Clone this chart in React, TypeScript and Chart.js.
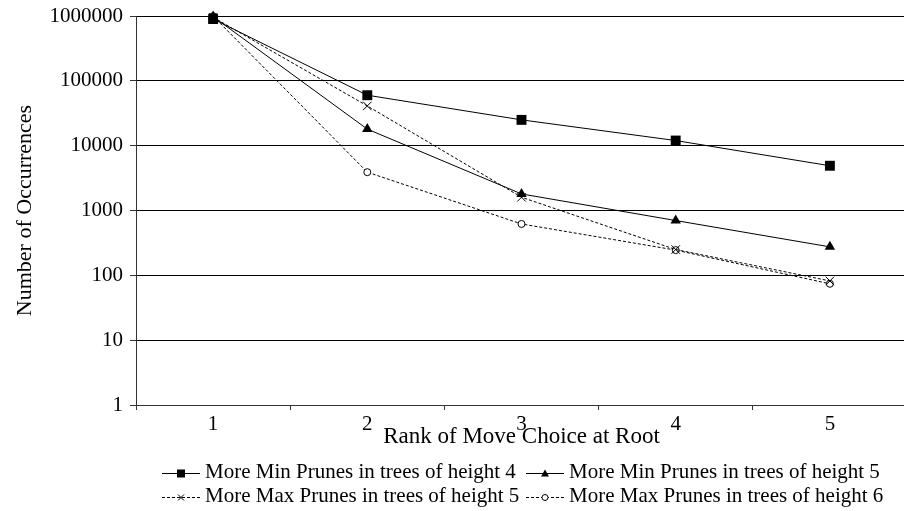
import React, { useEffect, useRef } from "react";
import { Chart, registerables } from "chart.js";

Chart.register(...registerables);

// ---- data ----
const categories = ["1", "2", "3", "4", "5"];
const minPrunesH4 = [898000, 60000, 25000, 12000, 4900];
const minPrunesH5 = [979000, 18000, 1800, 700, 275];
const maxPrunesH5 = [956000, 41000, 1600, 250, 82];
const maxPrunesH6 = [995000, 3900, 620, 245, 74];
const yTickValues = [1, 10, 100, 1000, 10000, 100000, 1000000];
const seriesLabels = [
  "More Min Prunes in trees of height 4",
  "More Min Prunes in trees of height 5",
  "More Max Prunes in trees of height 5",
  "More Max Prunes in trees of height 6",
];
const xTitle = "Rank of Move Choice at Root";
const yTitle = "Number of Occurrences";

// ---- styles ----
const FAMILY = "'Liberation Serif', 'Times New Roman', serif";
const FONT_SIZE = 21;
const AXIS_COLOR = "#333";

type Marker = "rect" | "triangle" | "crossRot" | "circle";
const legendMarkers: Marker[] = ["rect", "triangle", "crossRot", "circle"];

function drawLegendMarker(ctx: CanvasRenderingContext2D, m: Marker, x: number, y: number) {
  ctx.save();
  ctx.setLineDash([]);
  ctx.strokeStyle = "#000";
  ctx.fillStyle = "#000";
  ctx.lineWidth = 1;
  if (m === "rect") {
    ctx.fillRect(x - 4, y - 4, 8, 8);
  } else if (m === "triangle") {
    ctx.beginPath();
    ctx.moveTo(x, y - 4);
    ctx.lineTo(x + 4, y + 3);
    ctx.lineTo(x - 4, y + 3);
    ctx.closePath();
    ctx.fill();
  } else if (m === "crossRot") {
    ctx.beginPath();
    ctx.moveTo(x - 3, y - 3);
    ctx.lineTo(x + 3, y + 3);
    ctx.moveTo(x + 3, y - 3);
    ctx.lineTo(x - 3, y + 3);
    ctx.stroke();
  } else {
    ctx.beginPath();
    ctx.arc(x, y, 3, 0, Math.PI * 2);
    ctx.fillStyle = "#fff";
    ctx.fill();
    ctx.stroke();
  }
  ctx.restore();
}

const legendPlugin = {
  id: "bottomLegend",
  afterDraw(chart: any) {
    const ctx: CanvasRenderingContext2D = chart.ctx;
    const colX = [162, 526];
    const rowY = [473, 497];
    const sampleLen = 38;
    ctx.save();
    ctx.font = `${FONT_SIZE}px ${FAMILY}`;
    ctx.textBaseline = "alphabetic";
    ctx.textAlign = "left";
    chart.data.datasets.forEach((ds: any, i: number) => {
      const x = colX[i % 2];
      const y = rowY[Math.floor(i / 2)];
      ctx.beginPath();
      ctx.setLineDash(ds.borderDash || []);
      ctx.strokeStyle = "#000";
      ctx.lineWidth = 1;
      ctx.moveTo(x, y + 0.5);
      ctx.lineTo(x + sampleLen, y + 0.5);
      ctx.stroke();
      drawLegendMarker(ctx, legendMarkers[i], x + sampleLen / 2, y + 0.5);
      ctx.setLineDash([]);
      ctx.fillStyle = "#000";
      ctx.fillText(ds.label, x + sampleLen + 5, y + 5);
    });
    ctx.restore();
  },
};

export default function App() {
  const canvasRef = useRef<HTMLCanvasElement | null>(null);

  useEffect(() => {
    if (!canvasRef.current) return;
    const font = { family: FAMILY, size: FONT_SIZE };
    const chart = new Chart(canvasRef.current, {
      type: "line",
      data: {
        labels: categories,
        datasets: [
          {
            label: seriesLabels[0],
            data: minPrunesH4,
            borderColor: "#000",
            borderWidth: 1,
            pointStyle: "rect",
            pointRadius: 7,
            pointBackgroundColor: "#000",
            pointBorderColor: "#000",
            pointBorderWidth: 0,
            clip: false,
          },
          {
            label: seriesLabels[1],
            data: minPrunesH5,
            borderColor: "#000",
            borderWidth: 1,
            pointStyle: "triangle",
            pointRadius: 6,
            pointBackgroundColor: "#000",
            pointBorderColor: "#000",
            pointBorderWidth: 0,
            clip: false,
          },
          {
            label: seriesLabels[2],
            data: maxPrunesH5,
            borderColor: "#000",
            borderWidth: 1,
            borderDash: [3, 2],
            pointStyle: "crossRot",
            pointRadius: 6,
            pointBackgroundColor: "#000",
            pointBorderColor: "#000",
            pointBorderWidth: 1,
            clip: false,
          },
          {
            label: seriesLabels[3],
            data: maxPrunesH6,
            borderColor: "#000",
            borderWidth: 1,
            borderDash: [3, 2],
            pointStyle: "circle",
            pointRadius: 3.5,
            pointBackgroundColor: "#fff",
            pointBorderColor: "#000",
            pointBorderWidth: 1,
            clip: false,
          },
        ] as any,
      },
      options: {
        responsive: false,
        maintainAspectRatio: false,
        animation: false,
        devicePixelRatio: 1,
        layout: { padding: { top: 16, right: 0, bottom: 56, left: 0 } },
        elements: { line: { tension: 0 } },
        plugins: {
          legend: { display: false },
          tooltip: { enabled: false },
        },
        scales: {
          x: {
            type: "category",
            offset: true,
            grid: {
              display: true,
              drawOnChartArea: false,
              drawTicks: true,
              tickLength: 5,
              color: AXIS_COLOR,
              offset: true,
            },
            border: { color: AXIS_COLOR, width: 1 },
            ticks: { font, color: "#000", padding: 2, maxRotation: 0 },
            title: {
              display: true,
              text: xTitle,
              font: { family: FAMILY, size: 23 },
              color: "#000",
              padding: { top: 0, bottom: 4 },
            },
            afterFit: (s: any) => {
              s.height = 50;
              s.paddingLeft = 0;
              s.paddingRight = 0;
            },
          },
          y: {
            type: "logarithmic",
            min: 1,
            max: 1000000,
            afterBuildTicks: (s: any) => {
              s.ticks = yTickValues.map((v) => ({ value: v }));
            },
            afterFit: (s: any) => {
              s.width = 136;
              s.paddingTop = 0;
              s.paddingBottom = 0;
            },
            ticks: {
              font,
              color: "#000",
              padding: 7,
              autoSkip: false,
              callback: (v: any) => String(v),
            },
            grid: {
              color: "#000",
              lineWidth: 1,
              drawTicks: true,
              tickLength: 6,
              tickColor: AXIS_COLOR,
            },
            border: { color: AXIS_COLOR, width: 1 },
            title: {
              display: true,
              text: yTitle,
              font: { family: FAMILY, size: 22 },
              color: "#000",
              padding: { top: 12, bottom: 0 },
            },
          },
        },
      },
      plugins: [legendPlugin],
    });
    return () => chart.destroy();
  }, []);

  return (
    <div
      style={{
        position: "fixed",
        left: 0,
        top: 0,
        width: 904,
        height: 511,
        overflow: "hidden",
        background: "#fff",
      }}
    >
      <canvas ref={canvasRef} width={914} height={511} style={{ width: 914, height: 511, display: "block" }} />
    </div>
  );
}
